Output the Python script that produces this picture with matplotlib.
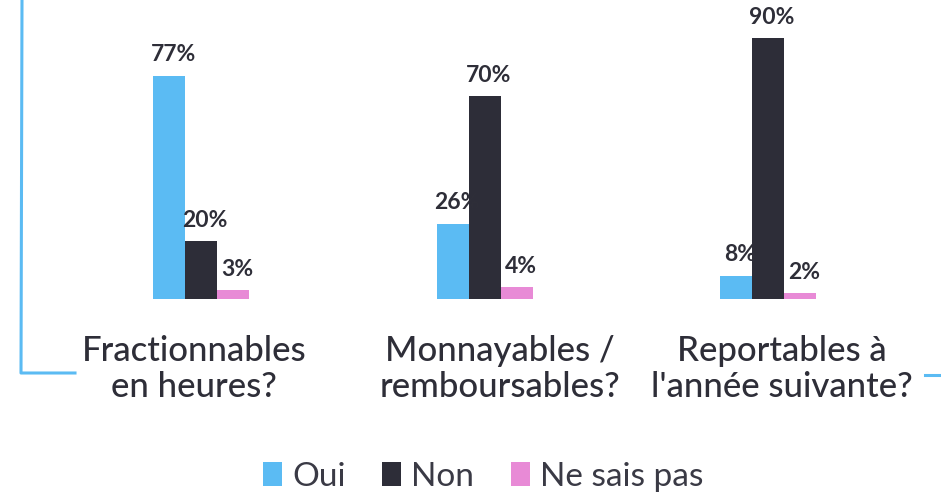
import matplotlib
matplotlib.use("Agg")
import matplotlib.pyplot as plt
from matplotlib.lines import Line2D
from matplotlib.patches import Patch
import numpy as np

categories = ["Fractionnables\nen heures?", "Monnayables /\nremboursables?", "Reportables à\nl'année suivante?"]
series_names = ["Oui", "Non", "Ne sais pas"]
oui = [77, 26, 8]
non = [20, 70, 90]
nsp = [3, 4, 2]

colors = ["#5BBBF3", "#2D2D38", "#E88AD6"]
frame_color = "#5BBBF3"
text_dark = "#2E2E38"

plt.rcParams['font.family'] = ['Lato', 'DejaVu Sans']

W, H = 941, 494
fig = plt.figure(figsize=(W / 100, H / 100), dpi=100)

# axes: baseline at pixel y=299, 100% at pixel y=9
base_px, top_px = 299, 9
ax = fig.add_axes([0, (H - base_px) / H, 1, (base_px - top_px) / H])
spacing = 283.5
c0 = 201
ax.set_xlim(-c0 / spacing, (W - c0) / spacing)
ax.set_ylim(0, 100)
ax.axis('off')

x = np.arange(len(categories))
bw = 32 / spacing
for k, (vals, name) in enumerate(zip([oui, non, nsp], series_names)):
    xs = x + (k - 1) * bw
    ax.bar(xs, vals, width=bw, color=colors[k], label=name, linewidth=0)
    for xi, v in zip(xs, vals):
        ax.annotate(f"{v}%", (xi, v), xytext=(3, 7.5), textcoords='offset points',
                    ha='center', va='bottom', fontsize=16.5, fontweight='bold',
                    color=text_dark)

# category labels
label_offsets = [-7, 15, 14]
for i, (cat, off) in enumerate(zip(categories, label_offsets)):
    xpix = c0 + i * spacing + off
    fig.text(xpix / W, 1 - 369 / H, cat, ha='center', va='center', fontsize=25,
             fontweight='medium', color=text_dark, linespacing=1.12)

# decorative frame lines
fig.add_artist(Line2D([22 / W, 21 / W, 75 / W], [1.0, 1 - 373 / H, 1 - 373 / H],
                      transform=fig.transFigure, color=frame_color, lw=2.2))
fig.add_artist(Line2D([925 / W, 1.0], [1 - 375 / H, 1 - 375 / H],
                      transform=fig.transFigure, color=frame_color, lw=2.2))

handles = [Patch(facecolor=c, edgecolor='none') for c in colors]
leg = fig.legend(handles, series_names, loc='center', bbox_to_anchor=(483 / W, 1 - 477 / H),
                 ncol=3, frameon=False, handlelength=0.57, handleheight=0.72,
                 handletextpad=0.3, columnspacing=1.1,
                 prop={'family': ['Lato', 'DejaVu Sans'], 'weight': 'normal', 'size': 24})
for t in leg.get_texts():
    t.set_color("#3A3A45")

fig.savefig("out.png", dpi=100)
